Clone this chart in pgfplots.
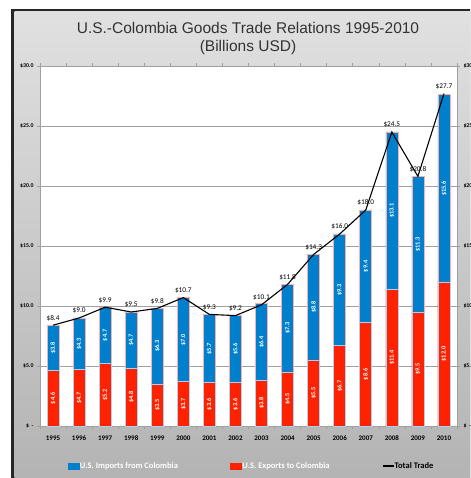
\documentclass[border=0pt]{standalone}
\usepackage{fontspec}
\setmainfont{Liberation Sans}
\newfontfamily\carlito{Carlito}
\usepackage{pgfplots}
\usepackage{pgfplotstable}
\pgfplotsset{compat=1.18}

\definecolor{impblue}{RGB}{0,128,204}
\definecolor{expred}{RGB}{255,34,0}
\definecolor{pinkedge}{RGB}{255,175,170}
\definecolor{blueedge}{RGB}{170,210,240}
\definecolor{gridgray}{RGB}{160,160,160}

\pgfplotstableread{
i exp imp tot
0  4.6 3.8  8.4
1  4.7 4.3  9.0
2  5.2 4.7  9.9
3  4.8 4.7  9.5
4  3.5 6.3  9.8
5  3.7 7.0 10.7
6  3.6 5.7  9.3
7  3.6 5.6  9.2
8  3.8 6.4 10.1
9  4.5 7.3 11.8
10 5.5 8.8 14.3
11 6.7 9.3 16.0
12 8.6 9.4 18.0
13 11.4 13.1 24.5
14 9.5 11.3 20.8
15 12.0 15.6 27.7
}\trade

\newcommand{\dollar}{\$\pgfmathprintnumber[fixed,fixed zerofill,precision=1,assume math mode=true]{\pgfplotspointmeta}}

\begin{document}
\begin{tikzpicture}
\useasboundingbox (0,0) rectangle (470pt,478pt);
\clip (0,0) rectangle (470pt,478pt);
\fill[white] (0,0) rectangle (470pt,478pt);
\fill[black!85] (11pt,-10pt) rectangle (480pt,469pt);
\shade[top color=black!12, bottom color=black!30] (14.7pt,-10pt) rectangle (480pt,466pt);
\node[align=center, font=\fontsize{15.5}{18.5}\selectfont, text=black!80] at (248pt,439.5pt)
  {U.S.-Colombia Goods Trade Relations 1995-2010\\(Billions USD)};

\begin{axis}[
    at={(40pt,52pt)}, anchor=south west,
    width=417pt, height=360pt, scale only axis,
    xmin=-0.5, xmax=15.5, ymin=0, ymax=30,
    enlargelimits=false,
    axis background/.style={fill=white},
    axis line style={draw=gridgray, line width=0.8pt},
    ymajorgrids, grid style={draw=gridgray, line width=0.8pt},
    ytick={0,5,...,30},
    yticklabels={\$\ \ -,\$5.0,\$10.0,\$15.0,\$20.0,\$25.0,\$30.0},
    ytick pos=left,
    yticklabel style={font=\carlito\bfseries\fontsize{5.8}{6}\selectfont},
    y tick style={draw=gridgray, line width=0.8pt},
    tick align=outside, major tick length=3pt,
    xtick={0,...,15},
    xticklabels={1995,1996,1997,1998,1999,2000,2001,2002,2003,2004,2005,2006,2007,2008,2009,2010},
    x tick style={draw=none},
    xticklabel style={font=\carlito\bfseries\fontsize{7}{8}\selectfont, yshift=-3pt},
    extra x ticks={-0.5,0.5,...,15.5},
    extra x tick labels={},
    extra x tick style={x tick style={draw=gridgray, line width=0.6pt}, tick align=outside, major tick length=3pt},
    legend style={at={(axis description cs:0.506,-0.111)}, anchor=center,
        draw=none, fill=none, font=\carlito\bfseries\fontsize{8.5}{9}\selectfont,
        nodes={inner sep=0.5pt},
        /tikz/every odd column/.append style={column sep=0pt},
        /tikz/every even column/.append style={column sep=52pt}},
    legend columns=3,
]
% imports bar sits on top of exports: draw full height, then exports over it
\addplot[ybar, bar width=12pt, bar shift=0pt, fill=impblue, draw=pinkedge, line width=0.7pt, forget plot]
    table[x=i, y expr=\thisrow{exp}+\thisrow{imp}] {\trade};
\addplot[ybar, bar width=12pt, bar shift=0pt, fill=expred, draw=blueedge, line width=0.7pt, forget plot]
    table[x=i, y=exp] {\trade};
\addplot[sharp plot, black, line width=1.1pt, mark=none, forget plot,
    nodes near coords=\dollar, point meta=explicit,
    every node near coord/.append style={font=\carlito\fontsize{7.3}{8}\selectfont, anchor=south, yshift=0.5pt, text=black}]
    table[x=i, y=tot, meta=tot] {\trade};
\addplot[sharp plot, draw=none, mark=none, forget plot,
    nodes near coords=\dollar, point meta=explicit,
    every node near coord/.append style={font=\carlito\bfseries\fontsize{6.3}{7}\selectfont, rotate=90, anchor=center, text=white}]
    table[x=i, y expr=\thisrow{exp}/2, meta=exp] {\trade};
\addplot[sharp plot, draw=none, mark=none, forget plot,
    nodes near coords=\dollar, point meta=explicit,
    every node near coord/.append style={font=\carlito\bfseries\fontsize{6.3}{7}\selectfont, rotate=90, anchor=center, text=white}]
    table[x=i, y expr=\thisrow{exp}+\thisrow{imp}/2, meta=imp] {\trade};
\addlegendimage{legend image code/.code={\fill[impblue] (0pt,-2.8pt) rectangle (11pt,2.8pt);}}
\addlegendentry{\textcolor{white}{U.S. Imports from Colombia}}
\addlegendimage{legend image code/.code={\fill[expred] (0pt,-2.8pt) rectangle (11pt,2.8pt);}}
\addlegendentry{\textcolor{white}{U.S. Exports to Colombia}}
\addlegendimage{legend image code/.code={\draw[black, line width=1.1pt] (0pt,0pt) -- (11pt,0pt);}}
\addlegendentry{Total Trade}
\end{axis}

\begin{axis}[
    at={(40pt,52pt)}, anchor=south west,
    width=417pt, height=360pt, scale only axis,
    xmin=-0.5, xmax=15.5, ymin=0, ymax=30,
    axis x line=none, axis y line*=right,
    axis line style={draw=gridgray, line width=0.8pt},
    ytick={0,5,...,30},
    yticklabels={\$\ \ -,\$5.0,\$10.0,\$15.0,\$20.0,\$25.0,\$30.0},
    yticklabel style={font=\carlito\bfseries\fontsize{5.8}{6}\selectfont},
    y tick style={draw=gridgray, line width=0.8pt},
    tick align=outside, major tick length=3pt,
]
\addplot[draw=none] coordinates {(0,0)};
\end{axis}
\end{tikzpicture}
\end{document}
